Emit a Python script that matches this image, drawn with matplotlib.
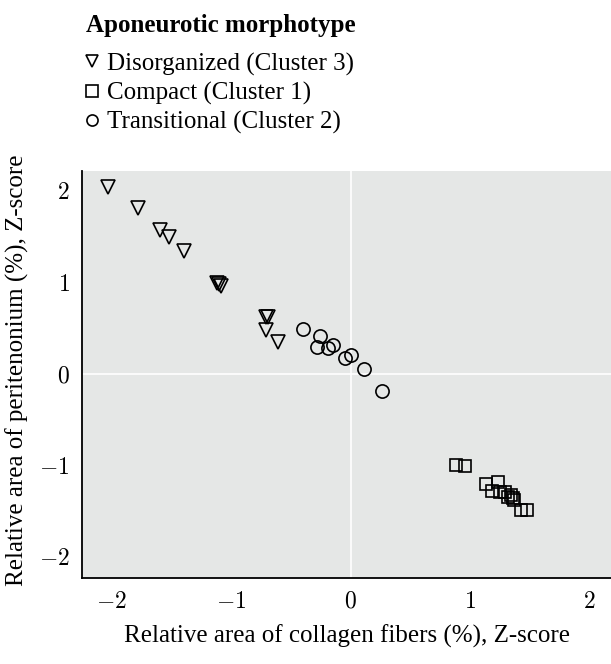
import matplotlib
matplotlib.use("Agg")
import matplotlib.pyplot as plt
from matplotlib.lines import Line2D

plt.rcParams['font.family'] = 'Liberation Serif'
plt.rcParams['mathtext.fontset'] = 'cm'

# Disorganized (Cluster 3)
dis_x = [-2.03, -1.78, -1.60, -1.52, -1.40, -1.12, -1.10, -1.09, -0.71, -0.69, -0.705, -0.61]
dis_y = [2.05, 1.81, 1.57, 1.50, 1.34, 0.99, 0.98, 0.96, 0.62, 0.62, 0.48, 0.35]
# Compact (Cluster 1)
com_x = [0.88, 0.96, 1.13, 1.23, 1.18, 1.25, 1.29, 1.34, 1.36, 1.37, 1.32, 1.43, 1.48]
com_y = [-0.99, -1.01, -1.20, -1.18, -1.28, -1.29, -1.29, -1.32, -1.36, -1.38, -1.34, -1.49, -1.49]
# Transitional (Cluster 2)
tra_x = [-0.40, -0.26, -0.28, -0.19, -0.15, -0.05, 0.005, 0.11, 0.26]
tra_y = [0.49, 0.42, 0.30, 0.29, 0.32, 0.17, 0.21, 0.05, -0.19]

ticks = [-2, -1, 0, 1, 2]
tick_labels = [r'$-2$', r'$-1$', r'$0$', r'$1$', r'$2$']

fig = plt.figure(figsize=(6.11, 6.64), dpi=100)
ax = fig.add_axes([82 / 611, 86 / 664, 529 / 611, 407 / 664])
ax.set_facecolor('#e5e7e6')

ax.axhline(0, color='white', lw=1.2, zorder=1)
ax.axvline(0, color='white', lw=1.2, zorder=1)

style = dict(linestyle='none', markerfacecolor='none', markeredgecolor='black',
             markeredgewidth=1.2, zorder=3)
ax.plot(dis_x, dis_y, marker='v', markersize=10, **style)
ax.plot(com_x, com_y, marker='s', markersize=9, **style)
ax.plot(tra_x, tra_y, marker='o', markersize=9.5, **style)

ax.set_xlim(-2.25, 2.18)
ax.set_ylim(-2.23, 2.22)
ax.set_xticks(ticks)
ax.set_xticklabels(tick_labels, fontsize=17)
ax.set_yticks(ticks)
ax.set_yticklabels(tick_labels, fontsize=17)
ax.tick_params(axis='x', length=0, pad=10)
ax.tick_params(axis='y', length=0, pad=9)
for s in ['top', 'right']:
    ax.spines[s].set_visible(False)
for s in ['left', 'bottom']:
    ax.spines[s].set_linewidth(1.3)

ax.set_xlabel('Relative area of collagen fibers (%), Z-score', fontsize=18)
ax.set_ylabel('Relative area of peritenonium (%), Z-score', fontsize=18)
ax.xaxis.set_label_coords(0.5, -0.115)
ax.yaxis.set_label_coords(-0.1, 0.51)

handles = [
    Line2D([], [], marker='v', **dict(style, markersize=8)),
    Line2D([], [], marker='s', **dict(style, markersize=8)),
    Line2D([], [], marker='o', **dict(style, markersize=8)),
]
labels = ['Disorganized (Cluster 3)', 'Compact (Cluster 1)', 'Transitional (Cluster 2)']
leg = fig.legend(handles, labels, title='Aponeurotic morphotype', loc='upper left',
                 bbox_to_anchor=(0.112, 1.005), frameon=False, fontsize=18,
                 title_fontproperties={'weight': 'bold', 'size': 18},
                 alignment='left', handlelength=0.5, handletextpad=0.35,
                 labelspacing=0.25, borderaxespad=0.3)
leg._legend_box.sep = 11

fig.savefig('out.png', dpi=100)
